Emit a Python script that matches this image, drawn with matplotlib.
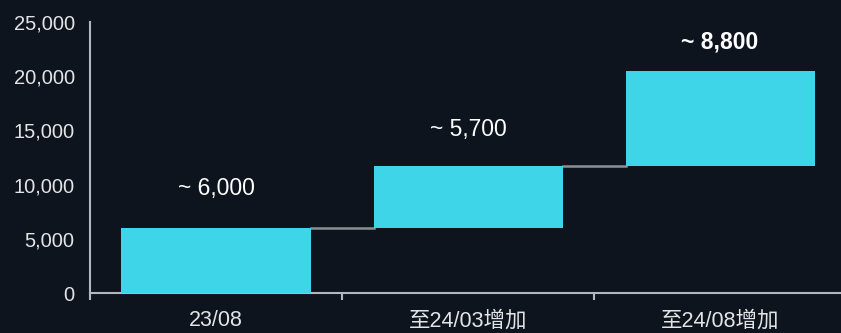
import numpy as np
import matplotlib.pyplot as plt
from matplotlib.ticker import FuncFormatter, FixedLocator

# data
categories = ['23/08', '至24/03增加', '至24/08增加']
increments = [6000, 5700, 8800]
labels = ['~ 6,000', '~ 5,700', '~ 8,800']

bg = '#0d141e'
bar_color = '#3ed5e8'
axis_color = '#b4b8be'
fam = ['Liberation Sans', 'Noto Sans CJK SC']

bottoms = np.concatenate([[0], np.cumsum(increments)[:-1]])
tops = np.cumsum(increments)
x = np.arange(len(categories))
width = 0.75

fig = plt.figure(figsize=(8.41, 3.33), dpi=100, facecolor=bg)
ax = fig.add_axes([0.107, 0.12, 0.893, 0.814], facecolor=bg)

ax.bar(x, increments, bottom=bottoms, width=width, color=bar_color, zorder=3)

# connectors between bars
for i in range(len(x) - 1):
    ax.plot([x[i] + width / 2, x[i + 1] - width / 2], [tops[i], tops[i]],
            color='#8c9096', lw=1.8, zorder=2)

# value labels
offsets = [39, 37, 29]
for i in range(len(x)):
    ax.annotate(labels[i], (x[i], tops[i]), xytext=(0, offsets[i]),
                textcoords='offset pixels', ha='center', va='center',
                color='white', fontsize=16.5, family=fam,
                fontweight='bold' if i == len(x) - 1 else 'normal')

ax.set_xlim(-0.5, 2.48)
ax.set_ylim(0, 25000)
ax.set_yticks(np.arange(0, 25001, 5000))
ax.yaxis.set_major_formatter(FuncFormatter(lambda v, p: f'{int(v):,}'))
ax.set_xticks(x)
ax.set_xticklabels(categories)
ax.xaxis.set_minor_locator(FixedLocator([-0.5, 0.5, 1.5]))

for s in ['top', 'right']:
    ax.spines[s].set_visible(False)
for s in ['left', 'bottom']:
    ax.spines[s].set_color(axis_color)
    ax.spines[s].set_linewidth(1.5)

ax.tick_params(axis='y', length=0, pad=11, colors='#e2e4e6', labelsize=14.5)
ax.tick_params(axis='x', which='major', length=0, pad=12.5, colors='#e2e4e6', labelsize=15.5)
ax.tick_params(axis='x', which='minor', length=5, width=1.5, color=axis_color)
for lab in ax.get_xticklabels() + ax.get_yticklabels():
    lab.set_family(fam)

fig.savefig('out.png', dpi=100, facecolor=bg)
